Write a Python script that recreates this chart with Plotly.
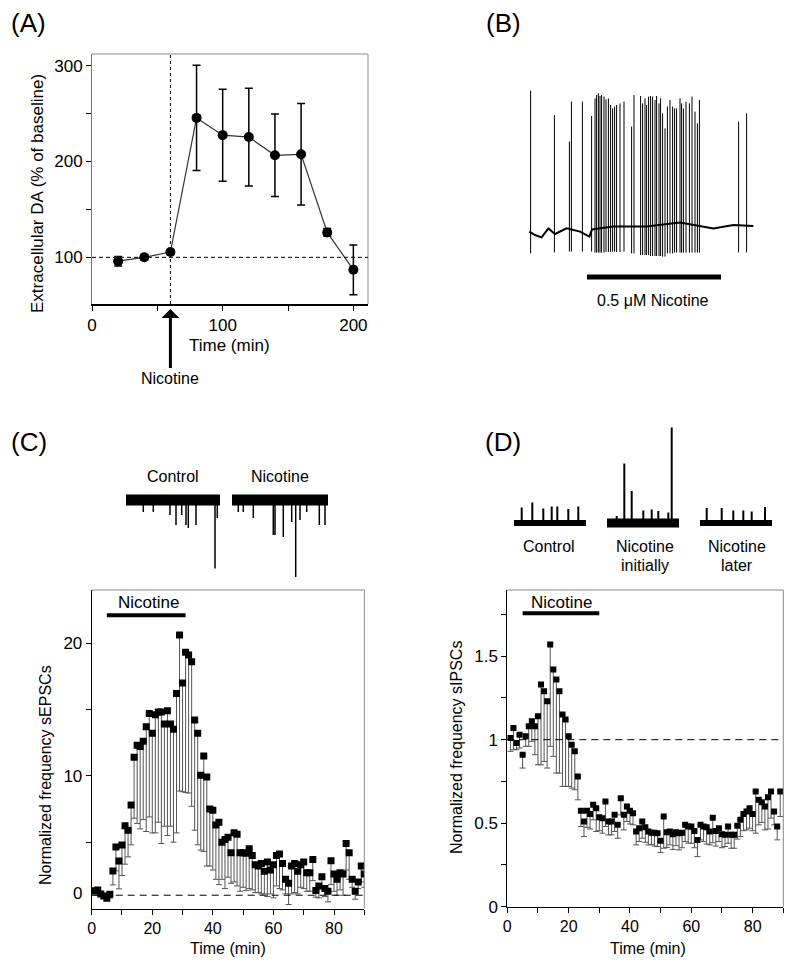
import plotly.graph_objects as go

# the page body has an 8px margin, so the figure is placed at (8, 8)
OFF = 8
W, H = 800 - OFF, 971 - OFF
FONT = "Liberation Sans, Arial, sans-serif"

# ---------------- (A) extracellular DA ----------------
a_time = [20, 40, 60, 80, 100, 120, 140, 160, 180, 200]
a_da = [96, 100, 105.5, 245.5, 227.5, 225.5, 206.5, 207.5, 126, 87]
a_sem = [5, 3, 2.5, 55, 48, 51, 43, 53, 4, 26]
a_nicotine_time = 60

# ---------------- (B) firing trace (s, mV) ----------------
b_spike_t = [0.8, 12.7, 20.2, 21.2, 26.7, 31.3, 33.0, 33.8, 34.7, 35.5, 36.3, 37.5, 38.5,
             39.7, 40.8, 41.8, 42.8, 43.8, 45.5, 47.5, 51.3, 52.5, 55.8, 56.8, 58.0, 58.8,
             59.8, 60.8, 61.8, 63.0, 63.8, 65.0, 65.8, 66.8, 68.0, 69.2, 70.5, 71.8, 72.8,
             73.8, 75.5, 76.3, 77.2, 78.5, 80.2, 81.5, 83.0, 84.2, 85.2, 104.8, 108.8]
b_spike_top = [14.7, 2.5, -10.8, 9.2, 9.2, 2.0, 10.8, 12.5, 13.3, 12.0, 12.5, 11.7, 10.3,
               10.8, 7.5, 5.8, 6.7, 7.5, 8.3, 9.2, -3.3, 12.5, 12.0, 8.3, 10.8, 7.5,
               11.7, 12.0, 11.7, 10.0, 12.0, 8.3, 10.8, 3.3, -4.2, 6.7, 10.0, 6.7, 5.8,
               5.8, 10.8, 8.3, 5.8, 9.2, 8.3, 11.7, 4.2, -1.7, 10.0, -0.8, 3.3]
b_spike_bottom = [-66.7, -66.2, -65.8, -65.8, -65.8, -65.8, -66.3, -66.3, -66.3, -66.3, -66.3,
                  -66.3, -66.0, -66.0, -66.0, -65.8, -65.8, -66.0, -66.0, -65.8, -66.7, -66.7,
                  -67.5, -67.5, -67.5, -67.5, -67.5, -68.0, -68.0, -68.0, -68.0, -68.0, -68.0,
                  -68.3, -68.3, -66.7, -66.7, -66.7, -66.3, -66.3, -66.3, -66.3, -66.3, -66.3,
                  -66.3, -66.3, -66.3, -66.3, -66.3, -66.2, -66.2]
b_base_t = [0.2, 3.0, 6.3, 9.7, 13.0, 18.8, 25.5, 30.2, 31.5, 42.2, 58.8, 75.5, 92.2, 102.2, 112.2]
b_base_v = [-55.8, -57.5, -58.7, -54.2, -57.0, -54.2, -55.8, -58.3, -54.7, -53.3, -53.3,
            -51.3, -54.2, -52.5, -53.0]
b_drug_t = [29, 96]
b_drug_v = -78.5

# ---------------- (C) sEPSC frequency ----------------
c_time = list(range(1, 91))
c_freq = [1.33, 1.40, 1.10, 0.95, 0.78, 1.08, 2.83, 4.64, 3.58, 4.79,
          6.24, 5.89, 7.80, 11.4, 12.3, 12.2, 12.6, 13.7, 14.7, 13.2,
          14.6, 14.8, 14.8, 13.9, 14.9, 13.9, 13.5, 16.2, 20.6, 17.0,
          19.3, 19.1, 18.6, 14.2, 13.2, 10.05, 11.5, 9.9, 7.5, 7.4,
          6.3, 6.5, 5.0, 5.2, 5.36, 4.2, 5.7, 5.6, 4.2, 4.2,
          4.16, 4.5, 4.0, 3.3, 3.2, 3.4, 2.8, 3.5, 2.9, 3.3,
          4.0, 4.1, 3.4, 2.2, 1.9, 3.2, 3.4, 2.8, 3.3, 3.5,
          2.7, 2.7, 3.7, 1.35, 1.7, 2.4, 1.5, 1.3, 3.6, 2.6,
          2.2, 2.7, 2.6, 4.9, 4.2, 2.2, 1.3, 2.0, 3.2, 2.6]
c_sem = [0.3, 0.4, 0.2, 0.15, 0.1, 0.3, 1.05, 1.8, 2.1, 2.3,
         2.9, 2.0, 3.0, 4.6, 5.9, 6.2, 5.9, 7.9, 7.8, 7.5,
         8.9, 8.3, 9.9, 7.7, 9.4, 7.7, 8.5, 10.5, 11.75, 8.2,
         10.55, 10.4, 10.9, 8.3, 8.4, 5.65, 7.2, 6.7, 4.3, 4.5,
         4.1, 4.7, 2.8, 3.7, 3.0, 2.3, 3.7, 3.9, 2.9, 2.6,
         2.8, 3.0, 2.6, 2.1, 2.0, 2.3, 1.7, 2.6, 1.8, 2.5,
         2.3, 2.6, 2.0, 1.1, 1.6, 2.1, 2.2, 1.7, 1.7, 2.0,
         1.4, 1.4, 1.6, 0.5, 0.9, 0.8, 0.6, 0.8, 1.8, 1.3,
         1.2, 1.3, 1.6, 2.0, 2.0, 0.6, 0.6, 0.5, 1.2, 1.0]
c_drug = [5, 31]
c_drug_level = 22.1

# sEPSC example sweeps (ms, pA)
c_ctrl_t = [173, 273, 440, 500, 557, 600, 623, 700, 890, 913]
c_ctrl_amp = [-24, -24, -30, -50, -30, -50, -56, -50, -137, -36]
c_nic_t = [63, 113, 213, 413, 430, 513, 597, 637, 680, 747, 873, 930]
c_nic_amp = [-24, -24, -36, -70, -70, -74, -44, -154, -40, -24, -50, -50]

# ---------------- (D) sIPSC frequency ----------------
d_time = list(range(1, 90))
d_freq = [1.01, 1.07, 0.98, 1.03, 0.91, 1.02, 1.08, 1.11, 1.08, 1.14,
          1.33, 1.29, 1.23, 1.57, 1.42, 1.36, 1.29, 1.15, 1.12, 1.02,
          0.97, 0.93, 0.78, 0.575, 0.51, 0.575, 0.555, 0.61, 0.59, 0.535,
          0.53, 0.63, 0.51, 0.51, 0.55, 0.49, 0.65, 0.55, 0.60, 0.575,
          0.56, 0.45, 0.47, 0.51, 0.475, 0.45, 0.443, 0.443, 0.44, 0.395,
          0.54, 0.445, 0.45, 0.433, 0.445, 0.44, 0.443, 0.49, 0.48, 0.48,
          0.453, 0.40, 0.49, 0.48, 0.475, 0.45, 0.533, 0.453, 0.47, 0.433,
          0.43, 0.48, 0.43, 0.43, 0.485, 0.52, 0.555, 0.57, 0.59, 0.555,
          0.69, 0.64, 0.625, 0.60, 0.655, 0.69, 0.57, 0.48, 0.69]
d_sem = [0.08, 0.13, 0.04, 0.08, 0.08, 0.06, 0.12, 0.12, 0.17, 0.29,
         0.48, 0.42, 0.40, 0.61, 0.52, 0.56, 0.49, 0.43, 0.40, 0.30,
         0.26, 0.23, 0.14, 0.095, 0.09, 0.10, 0.09, 0.09, 0.14, 0.08,
         0.09, 0.15, 0.08, 0.08, 0.10, 0.08, 0.10, 0.09, 0.09, 0.08,
         0.07, 0.08, 0.08, 0.10, 0.09, 0.08, 0.07, 0.08, 0.08, 0.07,
         0.19, 0.09, 0.08, 0.09, 0.08, 0.10, 0.09, 0.10, 0.10, 0.10,
         0.10, 0.10, 0.09, 0.09, 0.10, 0.08, 0.15, 0.09, 0.08, 0.08,
         0.07, 0.10, 0.08, 0.08, 0.08, 0.10, 0.10, 0.11, 0.12, 0.10,
         0.25, 0.15, 0.12, 0.14, 0.19, 0.16, 0.08, 0.08, 0.15]
d_drug = [5, 30]
d_drug_level = 1.757

# sIPSC example sweeps (ms, pA)
d_ctrl_t = [77, 183, 293, 377, 433, 543, 643]
d_ctrl_amp = [31, 41, 29, 33, 33, 28, 33]
d_init_t = [97, 173, 247, 363, 447, 513, 613, 647]
d_init_amp = [14, 119, 64, 25, 27, 24, 21, 191]
d_late_t = [67, 217, 333, 433, 517, 650]
d_late_amp = [30, 30, 25, 25, 23, 32]


def px(x):
    return (x - OFF) / W


def py(y):
    return 1 - (y - OFF) / H


def spikes(times, tops, bottoms):
    xs, ys = [], []
    for t, a, b in zip(times, tops, bottoms):
        xs += [t, t, None]
        ys += [b, a, None]
    return xs, ys


fig = go.Figure()

# (A)
fig.add_trace(go.Scatter(
    x=a_time, y=a_da, mode="lines+markers",
    line=dict(color="#333", width=1.2),
    marker=dict(color="black", size=10),
    error_y=dict(type="data", array=a_sem, color="black", thickness=1.5, width=4),
    xaxis="x", yaxis="y"))

# (B)
sx, sy = spikes(b_spike_t, b_spike_top, b_spike_bottom)
fig.add_trace(go.Scatter(x=sx, y=sy, mode="lines", line=dict(color="black", width=1),
                         xaxis="x2", yaxis="y2"))
fig.add_trace(go.Scatter(x=b_base_t, y=b_base_v, mode="lines", line=dict(color="black", width=2),
                         xaxis="x2", yaxis="y2"))
fig.add_trace(go.Scatter(x=b_drug_t, y=[b_drug_v] * 2, mode="lines",
                         line=dict(color="black", width=5), xaxis="x2", yaxis="y2"))

# (C)
fig.add_trace(go.Scatter(
    x=c_time, y=c_freq, mode="markers",
    marker=dict(color="black", size=7, symbol="square"),
    error_y=dict(type="data", symmetric=False, array=[0] * len(c_sem), arrayminus=c_sem,
                 color="#555", thickness=1, width=3),
    xaxis="x3", yaxis="y3"))
fig.add_trace(go.Scatter(x=c_drug, y=[c_drug_level] * 2, mode="lines",
                         line=dict(color="black", width=4), xaxis="x3", yaxis="y3"))

# (D)
fig.add_trace(go.Scatter(
    x=d_time, y=d_freq, mode="markers",
    marker=dict(color="black", size=6, symbol="square"),
    error_y=dict(type="data", symmetric=False, array=[0] * len(d_sem), arrayminus=d_sem,
                 color="#555", thickness=1, width=3),
    xaxis="x4", yaxis="y4"))
fig.add_trace(go.Scatter(x=d_drug, y=[d_drug_level] * 2, mode="lines",
                         line=dict(color="black", width=4), xaxis="x4", yaxis="y4"))

# example sweeps
sweeps = [
    ("5", c_ctrl_t, c_ctrl_amp, 11, 1.5, 940),
    ("6", c_nic_t, c_nic_amp, 11, 1.5, 960),
    ("7", d_ctrl_t, d_ctrl_amp, 6, 2, 720),
    ("8", d_init_t, d_init_amp, 9, 2, 720),
    ("9", d_late_t, d_late_amp, 6, 2, 720),
]
for n, t, amp, band, lw, dur in sweeps:
    fig.add_trace(go.Scatter(x=[0, dur], y=[0, 0], mode="lines",
                             line=dict(color="black", width=band),
                             xaxis="x" + n, yaxis="y" + n))
    sx, sy = spikes(t, amp, [0] * len(t))
    fig.add_trace(go.Scatter(x=sx, y=sy, mode="lines", line=dict(color="black", width=lw),
                             xaxis="x" + n, yaxis="y" + n))

tick_common = dict(ticks="outside", ticklen=5, tickwidth=1, tickcolor="black", automargin=False,
                   showgrid=False, zeroline=False, showline=True, linecolor="black", linewidth=1)
minor_common = dict(ticks="outside", ticklen=5, tickcolor="black")

layout = dict(
    width=W, height=H, margin=dict(l=0, r=0, t=0, b=0, autoexpand=False),
    paper_bgcolor="white", plot_bgcolor="white", showlegend=False,
    font=dict(family=FONT, color="black", size=16),
    xaxis=dict(domain=[px(92), px(368)], range=[0, 211.2], tickvals=[0, 100, 200],
               minor=dict(tickvals=[50, 150], **minor_common),
               anchor="y", tickfont=dict(size=17), **{**tick_common, "linewidth": 1.5}),
    yaxis=dict(domain=[py(304), py(54)], range=[51.3, 312.2], tickvals=[100, 200, 300],
               minor=dict(tickvals=[150, 250], **minor_common),
               anchor="x", tickfont=dict(size=17), **{**tick_common, "linecolor": "#777"}),
    xaxis2=dict(domain=[px(520), px(760)], range=[-4.5, 115.5], visible=False, anchor="y2"),
    yaxis2=dict(domain=[py(310), py(80)], range=[-95, 20], visible=False, anchor="x2"),
    xaxis3=dict(domain=[px(91.7), px(364.3)], range=[0, 90], tickvals=[0, 20, 40, 60, 80],
                minor=dict(tickvals=[10, 30, 50, 70, 90], **minor_common),
                anchor="y3", tickfont=dict(size=16), **tick_common),
    yaxis3=dict(domain=[py(908.5), py(590)], range=[0, 24.0], tickvals=[10, 20],
                minor=dict(tickvals=[5, 15], **minor_common),
                anchor="x3", tickfont=dict(size=17), **tick_common),
    xaxis4=dict(domain=[px(507.3), px(783.3)], range=[0, 90], tickvals=[0, 20, 40, 60, 80],
                minor=dict(tickvals=[10, 30, 50, 70, 90], **minor_common),
                anchor="y4", tickfont=dict(size=16), **tick_common),
    yaxis4=dict(domain=[py(906.7), py(590)], range=[0, 1.896], tickvals=[0, 0.5, 1, 1.5],
                ticktext=["0", "0.5", "1", "1.5"],
                minor=dict(tickvals=[0.25, 0.75, 1.25, 1.75], **minor_common),
                anchor="x4", tickfont=dict(size=17), **tick_common),
)
sweep_dom = {
    "5": ((126, 220), (480, 580), (0, 940), (-160, 40)),
    "6": ((232, 328), (480, 580), (0, 960), (-160, 40)),
    "7": ((514, 586), (420, 540), (0, 720), (-34, 206)),
    "8": ((607, 679), (420, 540), (0, 720), (-34, 206)),
    "9": ((700, 772), (420, 540), (0, 720), (-34, 206)),
}
for n, (xd, yd, xr, yr) in sweep_dom.items():
    layout["xaxis" + n] = dict(domain=[px(xd[0]), px(xd[1])], range=list(xr), visible=False,
                               anchor="y" + n)
    layout["yaxis" + n] = dict(domain=[py(yd[1]), py(yd[0])], range=list(yr), visible=False,
                               anchor="x" + n)
fig.update_layout(**layout)

shapes = []
for xr, yr in [("x", "y"), ("x3", "y3"), ("x4", "y4")]:
    shapes.append(dict(type="line", xref=xr + " domain", yref=yr + " domain",
                       x0=0, x1=1, y0=1, y1=1, line=dict(color="#888", width=1)))
    shapes.append(dict(type="line", xref=xr + " domain", yref=yr + " domain",
                       x0=1, x1=1, y0=0, y1=1, line=dict(color="#888", width=1)))
shapes.append(dict(type="line", xref="x domain", yref="y", x0=0, x1=1, y0=100, y1=100,
                   line=dict(color="black", width=1, dash="4px,3px")))
shapes.append(dict(type="line", xref="x", yref="y domain", x0=a_nicotine_time,
                   x1=a_nicotine_time, y0=0, y1=1, line=dict(color="black", width=1, dash="dot")))
shapes.append(dict(type="line", xref="x3 domain", yref="y3", x0=0, x1=1, y0=1, y1=1,
                   line=dict(color="black", width=1, dash="7px,5px")))
shapes.append(dict(type="line", xref="x4 domain", yref="y4", x0=0, x1=1, y0=1, y1=1,
                   line=dict(color="black", width=1, dash="7px,5px")))
fig.update_layout(shapes=shapes)


def note(text, x, y, size=16, angle=0, xanchor="center"):
    return dict(text=text, x=px(x), y=py(y), xref="paper", yref="paper", showarrow=False,
                font=dict(size=size, family=FONT), textangle=angle,
                xanchor=xanchor, yanchor="middle")


notes = [
    note("(A)", 9, 23, size=26, xanchor="left"), note("(B)", 503, 23, size=26),
    note("(C)", 9, 442, size=26, xanchor="left"), note("(D)", 503, 442, size=26),
    note("Extracellular DA (% of baseline)", 37, 194, size=17, angle=-90),
    note("Time (min)", 229, 345, size=17),
    note("0.5 \u03bcM Nicotine", 653, 300),
    note("Control", 173, 476), note("Nicotine", 280, 476),
    note("Control", 549, 546), note("Nicotine", 645, 546), note("initially", 645, 565),
    note("Nicotine", 737, 546), note("later", 737, 565),
    note("Nicotine", 148, 602, size=17), note("Nicotine", 561, 602, size=17),
    note("Normalized frequency sEPSCs", 45, 775, angle=-90),
    note("Normalized frequency sIPSCs", 456, 748, angle=-90),
    note("Time (min)", 228, 948), note("Time (min)", 648, 948),
    note("0", 84, 893, size=17, xanchor="right"),
    dict(text="Nicotine", x=a_nicotine_time, xref="x", y=py(309), yref="paper",
         showarrow=True, arrowhead=1, arrowsize=1, arrowwidth=3, arrowcolor="black",
         ax=0, ay=69, font=dict(size=16, family=FONT)),
]
fig.update_layout(annotations=notes)

fig.write_html("out.html")
